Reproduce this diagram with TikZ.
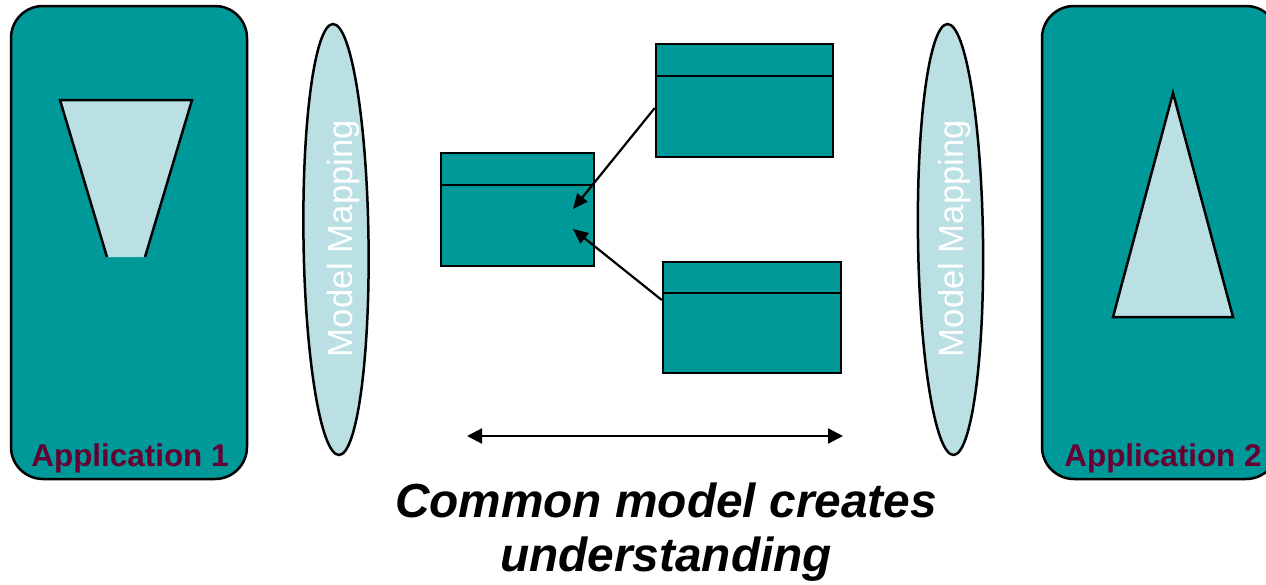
\documentclass[tikz,border=0pt]{standalone}
\usepackage{fontspec}
\setmainfont{Liberation Sans}
\usetikzlibrary{shapes.geometric,arrows.meta,calc}
\definecolor{teal}{RGB}{0,153,153}
\definecolor{lightteal}{RGB}{187,224,227}
\definecolor{appred}{RGB}{102,0,51}
\tikzset{
  appbox/.style={draw=black, fill=teal, line width=2.5pt, rounded corners=32pt, inner sep=0pt, minimum width=236pt, minimum height=473pt},
  classbox/.style={draw=black, fill=teal, line width=2.5pt, inner sep=0pt},
  mapoval/.style={ellipse, draw=black, fill=lightteal, line width=2.5pt, inner sep=0pt, minimum width=65pt, minimum height=431pt, rotate=0.8},
  maptext/.style={text=white, rotate=90, inner sep=0pt, font=\fontsize{34.7}{40}\selectfont},
  applabel/.style={text=appred, inner sep=0pt, anchor=base, font=\fontsize{31.4}{36}\bfseries\selectfont},
  shapefill/.style={fill=lightteal},
  shapeline/.style={draw=black, line width=2.5pt, line join=miter},
  conn/.style={draw=black, line width=2.2pt, -{Triangle[length=15pt,width=13pt]}},
  dconn/.style={draw=black, line width=2.2pt, {Triangle[length=15pt,width=15pt]}-{Triangle[length=15pt,width=15pt]}},
}
\begin{document}
\begin{tikzpicture}[x=1pt,y=-1pt]
\clip (0,0) rectangle (1266,584);
\fill[white] (0,0) rectangle (1266,584);

% application boxes
\node[appbox] (app1) at (129,242.5) {};
\node[appbox] (app2) at (1160,242.5) {};

% trapezoid in application 1
\fill[shapefill] (107,257) -- (60,100) -- (192,100) -- (145,257) -- cycle;
\draw[shapeline] (107,257) -- (60,100) -- (192,100) -- (145,257);

% triangle in application 2
\filldraw[shapefill, shapeline] (1173,93) -- (1113,317) -- (1233,317) -- cycle;

\node[applabel] (lab1) at (130,466) {Application 1};
\node[applabel] (lab2) at (1163,466) {Application 2};

% model mapping ovals
\node[mapoval] (map1) at (336,239.5) {};
\node[maptext] (map1t) at (343.5,238.5) {Model Mapping};
\node[mapoval] (map2) at (950.5,239.5) {};
\node[maptext] (map2t) at (955,238.5) {Model Mapping};

% class boxes
\node[classbox, minimum width=153pt, minimum height=113pt] (cmid) at (517.5,209.5) {};
\draw[line width=2.5pt] ($(cmid.north west)+(0,33)$) -- ($(cmid.north east)+(0,33)$);
\node[classbox, minimum width=177pt, minimum height=113pt] (ctop) at (744.5,100.5) {};
\draw[line width=2.5pt] ($(ctop.north west)+(0,33)$) -- ($(ctop.north east)+(0,33)$);
\node[classbox, minimum width=178pt, minimum height=111pt] (cbot) at (752,317.5) {};
\draw[line width=2.5pt] ($(cbot.north west)+(0,32)$) -- ($(cbot.north east)+(0,32)$);

% connectors
\coordinate (s1) at ($(ctop.west)+(0,7.5)$);
\coordinate (t1) at (573,209);
\coordinate (s2) at ($(cbot.west)+(0,-17.5)$);
\coordinate (t2) at (573,229);
\draw[conn] (s1) -- (t1);
\draw[conn] (s2) -- (t2);

\coordinate (hl) at (467,436);
\coordinate (hr) at (843,436);
\draw[dconn] (hl) -- (hr);

\node[inner sep=0pt, anchor=base, align=center, font=\fontsize{47.8}{54}\bfseries\itshape\selectfont] (cap) at (666,571) {Common model creates\\understanding};
\end{tikzpicture}
\end{document}
